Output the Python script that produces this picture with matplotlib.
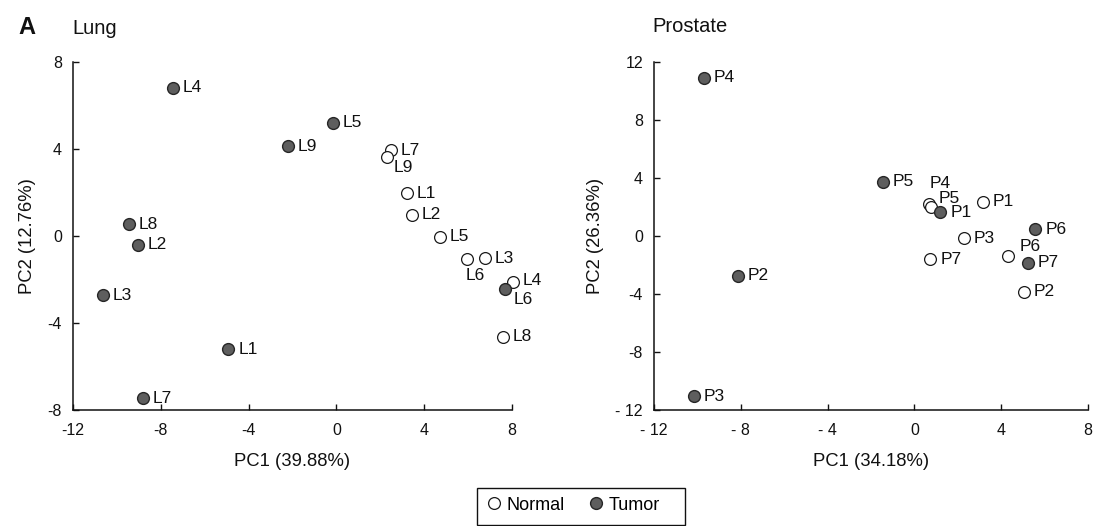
import matplotlib
matplotlib.use("Agg")
import matplotlib.pyplot as plt
from matplotlib.lines import Line2D
from matplotlib.patches import Rectangle

plt.rcParams['font.family'] = ['Liberation Sans', 'DejaVu Sans']

# ---------------- data ----------------
lung_normal_labels = ['L1', 'L2', 'L3', 'L4', 'L5', 'L6', 'L7', 'L8', 'L9']
lung_normal_pc1 = [3.2, 3.45, 6.75, 8.05, 4.7, 5.95, 2.5, 7.6, 2.3]
lung_normal_pc2 = [1.96, 0.97, -1.03, -2.1, -0.03, -1.06, 3.95, -4.63, 3.65]

lung_tumor_labels = ['L1', 'L2', 'L3', 'L4', 'L5', 'L6', 'L7', 'L8', 'L9']
lung_tumor_pc1 = [-4.92, -9.05, -10.65, -7.45, -0.15, 7.7, -8.82, -9.45, -2.2]
lung_tumor_pc2 = [-5.2, -0.41, -2.72, 6.82, 5.21, -2.42, -7.45, 0.55, 4.12]

pros_normal_labels = ['P1', 'P2', 'P3', 'P4', 'P5', 'P6', 'P7']
pros_normal_pc1 = [3.15, 5.04, 2.27, 0.65, 0.75, 4.32, 0.74]
pros_normal_pc2 = [2.37, -3.84, -0.16, 2.2, 2.0, -1.38, -1.61]

pros_tumor_labels = ['P1', 'P2', 'P3', 'P4', 'P5', 'P6', 'P7']
pros_tumor_pc1 = [1.2, -8.15, -10.15, -9.7, -1.46, 5.58, 5.24]
pros_tumor_pc2 = [1.63, -2.73, -11.04, 10.9, 3.75, 0.48, -1.84]

lung_xticks = [-12, -8, -4, 0, 4, 8]
lung_xticklabels = ['-12', '-8', '-4', '0', '4', '8']
lung_yticks = [-8, -4, 0, 4, 8]
lung_yticklabels = ['-8', '-4', '0', '4', '8']
pros_xticks = [-12, -8, -4, 0, 4, 8]
pros_xticklabels = ['- 12', '- 8', '- 4', '0', '4', '8']
pros_yticks = [-12, -8, -4, 0, 4, 8, 12]
pros_yticklabels = ['- 12', '-8', '-4', '0', '4', '8', '12']

legend_labels = ['Normal', 'Tumor']

# label offsets (points) for crowded labels; default is to the right
label_offsets = {
    ('lung', 'normal', 'L9'): (5, -8),
    ('lung', 'normal', 'L6'): (-1, -12),
    ('lung', 'normal', 'L4'): (7, 1),
    ('lung', 'tumor', 'L6'): (6, -8),
    ('pros', 'normal', 'P4'): (1, 15),
    ('pros', 'normal', 'P5'): (6, 6),
    ('pros', 'normal', 'P6'): (8, 7),
}

# ---------------- style ----------------
NORMAL_FACE = 'white'
NORMAL_EDGE = '#1a1a1a'
TUMOR_FACE = '#5e5e5e'
TUMOR_EDGE = '#262626'
MS = 8.5
LABEL_FS = 12.5
TICK_FS = 11.5
AXLABEL_FS = 13.3

W, H = 1095, 526
fig = plt.figure(figsize=(W / 100, H / 100), dpi=100)


def px_axes(left, right, top, bottom):
    return fig.add_axes([left / W, 1 - bottom / H, (right - left) / W, (bottom - top) / H])


def draw_panel(ax, key, nx, ny, nl, tx, ty, tl, xlim, ylim, xt, xtl, yt, ytl, xlabel, ylabel):
    ax.plot(nx, ny, linestyle='none', marker='o', ms=MS, mfc=NORMAL_FACE, mec=NORMAL_EDGE,
            mew=0.9, clip_on=False, zorder=3)
    ax.plot(tx, ty, linestyle='none', marker='o', ms=MS, mfc=TUMOR_FACE, mec=TUMOR_EDGE,
            mew=1.0, clip_on=False, zorder=4)
    for grp, xs, ys, ls in (('normal', nx, ny, nl), ('tumor', tx, ty, tl)):
        for x, y, lab in zip(xs, ys, ls):
            off = label_offsets.get((key, grp, lab), (7, 0))
            ax.annotate(lab, (x, y), xytext=off, textcoords='offset points',
                        ha='left', va='center', fontsize=LABEL_FS, color='#111111',
                        annotation_clip=False, zorder=5)
    ax.set_xlim(*xlim)
    ax.set_ylim(*ylim)
    ax.set_xticks(xt)
    ax.set_xticklabels(xtl)
    ax.set_yticks(yt)
    ax.set_yticklabels(ytl)
    for s in ('top', 'right'):
        ax.spines[s].set_visible(False)
    for s in ('left', 'bottom'):
        ax.spines[s].set_linewidth(1.1)
        ax.spines[s].set_color('#111111')
    ax.tick_params(direction='in', length=4, width=1, labelsize=TICK_FS, colors='#111111')
    ax.tick_params(axis='x', pad=9.5)
    ax.tick_params(axis='y', pad=8)
    ax.set_xlabel(xlabel, fontsize=AXLABEL_FS, labelpad=10.5, color='#111111')
    ax.set_ylabel(ylabel, fontsize=AXLABEL_FS, labelpad=8, color='#111111')
    ax.patch.set_alpha(0)


ax1 = px_axes(73, 512, 62, 410)
draw_panel(ax1, 'lung', lung_normal_pc1, lung_normal_pc2, lung_normal_labels,
           lung_tumor_pc1, lung_tumor_pc2, lung_tumor_labels,
           (-12, 8), (-8, 8), lung_xticks, lung_xticklabels, lung_yticks, lung_yticklabels,
           'PC1 (39.88%)', 'PC2 (12.76%)')

ax2 = px_axes(654, 1088, 62, 410)
draw_panel(ax2, 'pros', pros_normal_pc1, pros_normal_pc2, pros_normal_labels,
           pros_tumor_pc1, pros_tumor_pc2, pros_tumor_labels,
           (-12, 8), (-12, 12), pros_xticks, pros_xticklabels, pros_yticks, pros_yticklabels,
           'PC1 (34.18%)', 'PC2 (26.36%)')

fig.text(18 / W, 1 - 27 / H, 'A', fontsize=17, fontweight='bold', ha='left', va='center',
         color='#111111')
fig.text(72 / W, 1 - 28 / H, 'Lung', fontsize=14.5, ha='left', va='center', color='#111111')
fig.text(652 / W, 1 - 26 / H, 'Prostate', fontsize=14.5, ha='left', va='center',
         color='#111111')

handles = [
    Line2D([], [], linestyle='none', marker='o', ms=MS, mfc=NORMAL_FACE, mec=NORMAL_EDGE,
           mew=0.9, label=legend_labels[0]),
    Line2D([], [], linestyle='none', marker='o', ms=MS, mfc=TUMOR_FACE, mec=TUMOR_EDGE,
           mew=1.0, label=legend_labels[1]),
]
leg = fig.legend(handles=handles, loc='center left', bbox_to_anchor=(487 / W, 1 - 505 / H),
                 ncol=2, frameon=False, fontsize=13, handlelength=0.8,
                 handletextpad=0.3, columnspacing=1.3, borderpad=0, borderaxespad=0)
fig.add_artist(Rectangle((477 / W, 1 - 525 / H), 208 / W, 37 / H, transform=fig.transFigure,
                         fill=False, edgecolor='#111111', linewidth=1.0))

fig.savefig('out.png', dpi=100)
